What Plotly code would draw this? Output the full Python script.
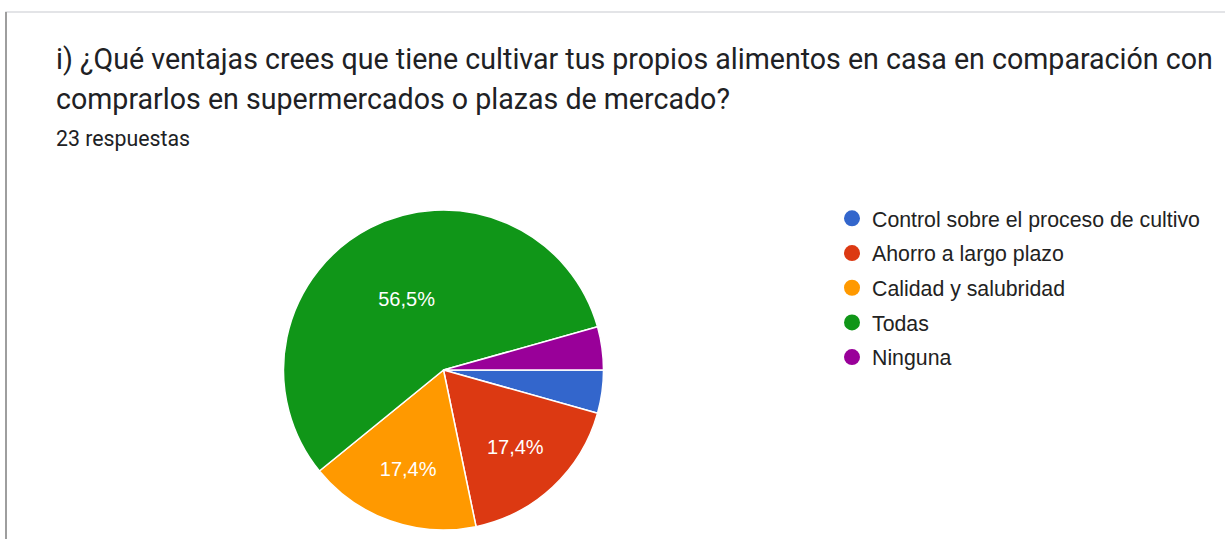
import plotly.graph_objects as go

# Respuestas del formulario (23 en total)
labels = ["Control sobre el proceso de cultivo", "Ahorro a largo plazo",
          "Calidad y salubridad", "Todas", "Ninguna"]
counts = [1, 4, 4, 13, 1]
colors = ["#3366cc", "#dc3912", "#ff9900", "#109618", "#990099"]

title_lines = ["i) ¿Qué ventajas crees que tiene cultivar tus propios alimentos en casa en comparación con",
               "comprarlos en supermercados o plazas de mercado?"]
subtitle_text = "23 respuestas"

W, H = 1225, 539
total = sum(counts)
# las porciones pequeñas no llevan etiqueta
templates = ["%{percent:.1%}" if c / total >= 0.05 else "" for c in counts]


def py(px):
    # píxeles desde arriba -> coordenada paper
    return 1 - px / H


fig = go.Figure()
fig.add_trace(go.Pie(
    labels=labels, values=counts, sort=False, direction="clockwise", rotation=90,
    marker=dict(colors=colors, line=dict(color="white", width=1.5)),
    texttemplate=templates, textposition="inside", insidetextorientation="horizontal",
    textfont=dict(color="white", size=20, family="Liberation Sans, Arial"),
    showlegend=False, hoverinfo="label+percent",
    domain=dict(x=[283 / W, 604 / W], y=[py(530), py(210)]),
))

# leyenda con círculos
for name, col in zip(labels, colors):
    fig.add_trace(go.Scatter(x=[None], y=[None], mode="markers", name=name, legendgroup=name,
                             marker=dict(color=col, size=16, symbol="circle")))

annotations = [
    dict(text=line, xref="paper", yref="paper", x=54 / W, y=py(top),
         xanchor="left", yanchor="top", align="left", showarrow=False,
         font=dict(size=28.6, color="#202124", family="Roboto"))
    for line, top in zip(title_lines, [40, 80])
]
annotations.append(dict(text=subtitle_text, xref="paper", yref="paper", x=54 / W, y=py(124),
                        xanchor="left", yanchor="top", align="left", showarrow=False,
                        font=dict(size=21.3, color="#202124", family="Roboto")))

fig.update_layout(
    width=W, height=H,
    margin=dict(l=0, r=0, t=0, b=0),
    paper_bgcolor="white", plot_bgcolor="white",
    separators=",.",
    font=dict(family="Roboto", color="#202124"),
    xaxis=dict(visible=False), yaxis=dict(visible=False),
    legend=dict(x=832 / W, y=py(198), xanchor="left", yanchor="top",
                font=dict(size=21.3, color="#222222", family="Liberation Sans, Arial"),
                itemsizing="trace", tracegroupgap=4),
    annotations=annotations,
    shapes=[
        # borde de la tarjeta
        dict(type="rect", xref="paper", yref="paper", x0=6 / W, x1=1.01, y0=-0.01, y1=py(12),
             line=dict(color="#dadce0", width=1.5), fillcolor="rgba(0,0,0,0)"),
        dict(type="line", xref="paper", yref="paper", x0=6 / W, x1=6 / W, y0=-0.01, y1=py(12),
             line=dict(color="#9e9e9e", width=2)),
    ],
)

fig.write_html("out.html", config={"displayModeBar": False},
               post_script="document.body.style.margin='0';")
